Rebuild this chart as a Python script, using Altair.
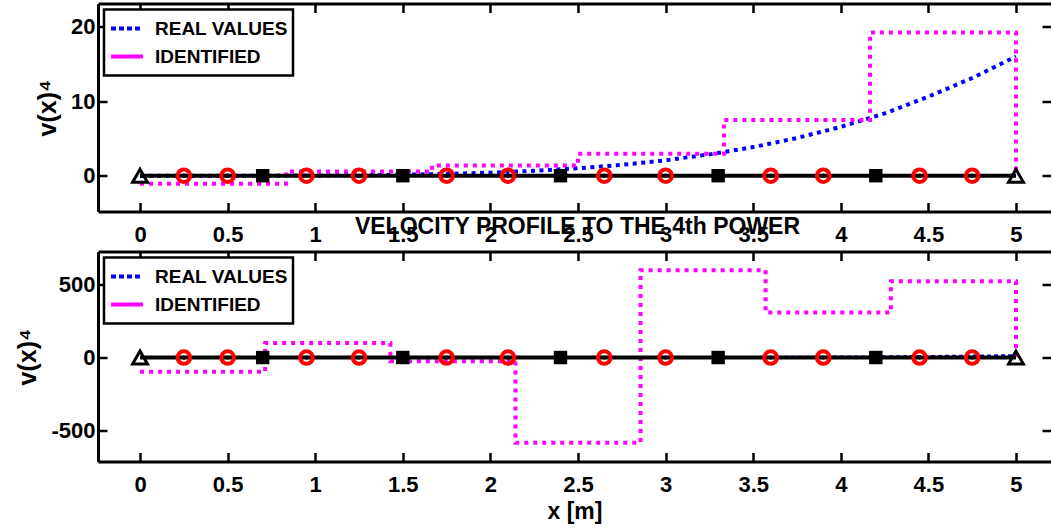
import altair as alt
import pandas as pd

# ---------------- data ----------------
x_real = [0.0, 0.25, 0.5, 0.75, 1.0, 1.25, 1.5, 1.75, 2.0, 2.25, 2.5,
          2.75, 3.0, 3.25, 3.5, 3.75, 4.0, 4.25, 4.5, 4.75, 5.0]
v4_real = [0.0, 0.0, 0.0, 0.01, 0.03, 0.06, 0.13, 0.24, 0.41, 0.66, 1.0,
           1.46, 2.07, 2.86, 3.84, 5.06, 6.55, 8.35, 10.6, 13.1, 16.0]

top_step_x = [0.0, 0.833, 1.667, 2.5, 3.333, 4.167, 5.0]
top_step_y = [-1.07, 0.55, 1.37, 2.93, 7.47, 19.2, 0.0]

bot_step_x = [0.0, 0.714, 1.429, 2.143, 2.857, 3.571, 4.286, 5.0]
bot_step_y = [-98, 100, -25, -584, 598, 308, 523, 0]

beam_x = [0.0, 5.0]
beam_y = [0.0, 0.0]
support_x = [0.0, 5.0]
square_x = [0.7, 1.5, 2.4, 3.3, 4.2]
circle_x = [0.25, 0.5, 0.95, 1.25, 1.75, 2.1, 2.65, 3.0, 3.6, 3.9, 4.45, 4.75]

legend_labels = ["REAL VALUES", "IDENTIFIED"]
x_ticks = [0, 0.5, 1, 1.5, 2, 2.5, 3, 3.5, 4, 4.5, 5]
top_y_ticks = [0, 10, 20]
bot_y_ticks = [-500, 0, 500]

title_text = "VELOCITY PROFILE TO THE 4th POWER"
x_title = "x [m]"
y_title = "v(x)\u2074"

# ---------------- styling ----------------
FONT = "Liberation Sans"
BLUE = "#0000ff"
MAGENTA = "#ff00ff"
RED = "#ff0000"
W = 953
H_TOP = 208
H_BOT = 210
X_DOM = [-0.24, 5.2]
TOP_DOM = [-4.8, 23.1]
BOT_DOM = [-712, 726]
TICK = 9
PLAIN = "'' + datum.value"

real_df = pd.DataFrame({"x": x_real, "v": v4_real})
beam_df = pd.DataFrame({"x": beam_x, "v": beam_y})
sup_df = pd.DataFrame({"x": support_x, "v": [0.0] * len(support_x)})
sq_df = pd.DataFrame({"x": square_x, "v": [0.0] * len(square_x)})
circ_df = pd.DataFrame({"x": circle_x, "v": [0.0] * len(circle_x)})
leg_df = pd.DataFrame({"series": legend_labels, "x": [0.0, 0.0], "v": [0.0, 0.0]})


def panel(y_dom, y_ticks, h, real_w, real_dash, sx, sy, title=None):
    xsc = alt.Scale(domain=X_DOM, nice=False, zero=False)
    ysc = alt.Scale(domain=y_dom, nice=False, zero=False)

    x_axis = alt.Axis(
        orient="bottom", values=x_ticks, labelExpr=PLAIN,
        domain=True, domainColor="black", domainWidth=3,
        ticks=False, tickSize=0,
        labelFont=FONT, labelFontSize=22, labelFontWeight="bold",
        labelColor="black", labelPadding=13, labelFlush=False,
        labelOverlap=False,
        grid=True, gridColor="black", gridWidth=2.5, gridOpacity=1,
        gridDash=[TICK, h - 2 * TICK, TICK, 3000],
        title=x_title, titleFont=FONT, titleFontSize=23,
        titleFontWeight="bold", titleColor="black", titlePadding=5,
    )
    y_axis = alt.Axis(
        orient="left", values=y_ticks, labelExpr=PLAIN,
        domain=True, domainColor="black", domainWidth=3,
        ticks=False, tickSize=0,
        labelFont=FONT, labelFontSize=22, labelFontWeight="bold",
        labelColor="black", labelPadding=3, labelFlush=False,
        labelOverlap=False,
        grid=True, gridColor="black", gridWidth=2.5, gridOpacity=1,
        gridDash=[TICK, W - 2 * TICK, TICK, 3000],
        title=y_title, titleFont=FONT, titleFontSize=25,
        titleFontWeight="bold", titleColor="black", titlePadding=10,
    )
    top_axis = alt.Axis(
        orient="top", domain=True, domainColor="black", domainWidth=3,
        ticks=False, labels=False, grid=False, title=None,
    )

    def X(axis=None):
        return alt.X("x:Q", scale=xsc, axis=axis)

    def Y(axis=None):
        return alt.Y("v:Q", scale=ysc, axis=axis)

    step_df = pd.DataFrame({"x": sx, "v": sy})

    real = alt.Chart(real_df).mark_line(
        color=BLUE, strokeWidth=real_w, strokeDash=real_dash
    ).encode(x=X(x_axis), y=Y(y_axis))

    ident = alt.Chart(step_df).mark_line(
        interpolate="step-after", color=MAGENTA, strokeWidth=4,
        strokeDash=[4, 5]
    ).encode(x=X(), y=Y())

    beam = alt.Chart(beam_df).mark_line(
        color="black", strokeWidth=4
    ).encode(x=X(top_axis), y=Y())

    circ = alt.Chart(circ_df).mark_point(
        shape="circle", filled=False, color=RED, strokeWidth=4,
        size=160, opacity=1
    ).encode(x=X(), y=Y())

    dots = alt.Chart(circ_df).mark_point(
        shape="circle", filled=True, color="black", size=18, opacity=1
    ).encode(x=X(), y=Y())

    sq = alt.Chart(sq_df).mark_point(
        shape="square", filled=True, color="black", size=180, opacity=1
    ).encode(x=X(), y=Y())

    tri = alt.Chart(sup_df).mark_point(
        shape="triangle-up", filled=False, color="black", strokeWidth=3,
        size=220, opacity=1
    ).encode(x=X(), y=Y())

    leg = alt.Chart(leg_df).mark_line(strokeWidth=4).encode(
        x=X(), y=Y(),
        color=alt.Color(
            "series:N",
            scale=alt.Scale(domain=legend_labels, range=[BLUE, MAGENTA]),
            legend=alt.Legend(title=None, orient="top-left", offset=6),
        ),
        strokeDash=alt.StrokeDash(
            "series:N",
            scale=alt.Scale(domain=legend_labels, range=[[5, 3], [1, 0]]),
            legend=alt.Legend(title=None, orient="top-left", offset=6),
        ),
    ).transform_filter(alt.datum.x > 100)

    props = dict(width=W, height=h)
    if title is not None:
        props["title"] = alt.TitleParams(
            text=title, font=FONT, fontSize=23, fontWeight="bold",
            color="black", anchor="middle", frame="group",
            baseline="alphabetic", offset=18, dx=3, dy=23,
        )
    return alt.layer(real, ident, beam, circ, dots, sq, tri, leg).resolve_axis(
        x="independent", y="independent"
    ).properties(**props)


top = panel(TOP_DOM, top_y_ticks, H_TOP, 4, [4, 4.5], top_step_x, top_step_y)
bottom = panel(BOT_DOM, bot_y_ticks, H_BOT, 2, [4, 3], bot_step_x, bot_step_y,
               title=title_text)

chart = alt.vconcat(top, bottom, spacing=40, bounds="flush").resolve_legend(
    color="independent", strokeDash="independent"
).configure_view(
    strokeWidth=0, fill="white"
).configure_legend(
    labelFont=FONT, labelFontSize=19, labelFontWeight="bold",
    labelColor="black", symbolType="stroke", symbolSize=1024,
    symbolStrokeWidth=4, padding=5, labelOffset=10, rowPadding=0,
    clipHeight=28, strokeColor="black", strokeWidth=2.5,
    fillColor="white", labelLimit=300,
).properties(
    padding={"left": 15, "top": 3.5, "right": 0, "bottom": 0},
    background="white",
)

chart.save("out.html", embed_options={"renderer": "svg", "actions": False})
